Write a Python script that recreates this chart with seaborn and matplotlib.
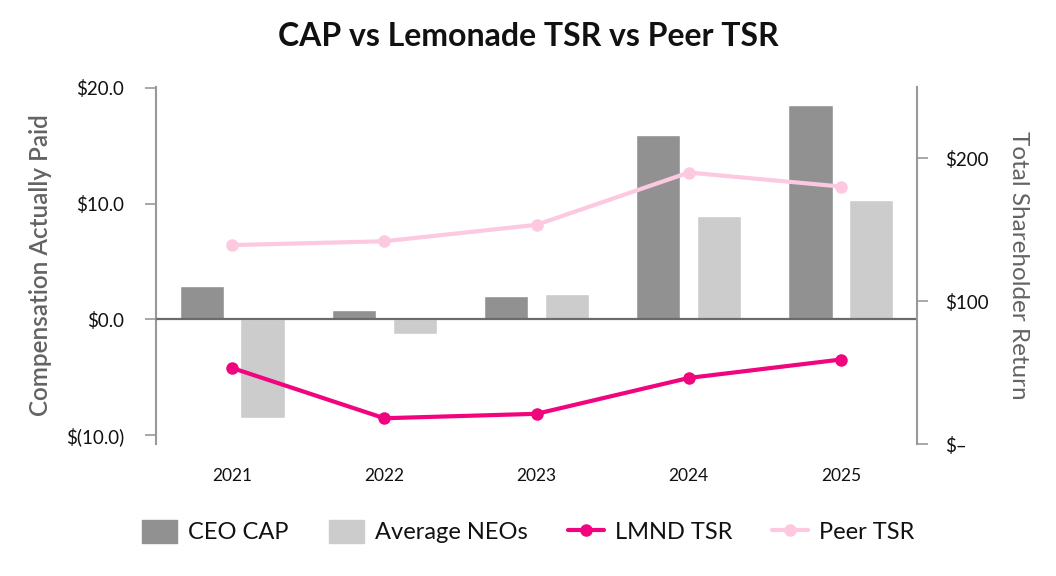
import numpy as np
import pandas as pd
import matplotlib
matplotlib.use("Agg")
import matplotlib.pyplot as plt
import seaborn as sns
from matplotlib.patches import Patch
from matplotlib.lines import Line2D

years = ["2021", "2022", "2023", "2024", "2025"]
ceo_cap = [2.9, 0.8, 2.0, 15.9, 18.5]
avg_neos = [-8.5, -1.25, 2.2, 8.95, 10.3]
lmnd_tsr = [53.3, 18.1, 21.2, 46.3, 59.2]
peer_tsr = [139.3, 142.0, 153.5, 190.1, 180.3]

left_ticks = [-10, 0, 10, 20]
left_labels = ["$(10.0)", "$0.0", "$10.0", "$20.0"]
right_ticks = [0, 100, 200]
right_labels = ["$\u2013", "$100", "$200"]

c_ceo = "#919191"
c_neo = "#cccccc"
c_lmnd = "#f0057f"
c_peer = "#fcc9e1"
axis_grey = "#999999"
label_grey = "#636363"

sns.set_style("white")
plt.rcParams["font.family"] = ["Lato", "DejaVu Sans"]

bars = pd.DataFrame({
    "Year": years * 2,
    "Value": ceo_cap + avg_neos,
    "Series": ["CEO CAP"] * len(years) + ["Average NEOs"] * len(years),
})

fig = plt.figure(figsize=(10.56, 5.76), dpi=100)
ax = fig.add_axes([0.1477, 0.229, 0.7207, 0.62])

sns.barplot(data=bars, x="Year", y="Value", hue="Series",
            palette=[c_ceo, c_neo], gap=0.275, legend=False, ax=ax)
ax.axhline(0, color="#6b6b6b", lw=1.6, zorder=3)
ax.set_xlim(-0.5, len(years) - 0.5)
ax.set_ylim(-10.75, 20.05)
ax.set_yticks(left_ticks)
ax.set_yticklabels(left_labels)
ax.set_xlabel("")
ax.set_ylabel("Compensation Actually Paid", fontsize=17.5, color=label_grey,
              fontweight="semibold", labelpad=10)
ax.tick_params(axis="y", direction="out", length=8, width=1.2, color=axis_grey,
               labelsize=13.5, pad=15, labelcolor="#111111")
ax.tick_params(axis="x", length=0, labelsize=12.5, pad=17, labelcolor="#111111")
for s in ["top", "right", "bottom"]:
    ax.spines[s].set_visible(False)
ax.spines["left"].set_color(axis_grey)
ax.spines["left"].set_linewidth(1.5)

ax2 = ax.twinx()
xpos = np.arange(len(years))
sns.lineplot(x=xpos, y=peer_tsr, color=c_peer, lw=3, marker="o", markersize=9,
             markeredgewidth=0, ax=ax2)
sns.lineplot(x=xpos, y=lmnd_tsr, color=c_lmnd, lw=3, marker="o", markersize=9,
             markeredgewidth=0, ax=ax2)
ax2.set_ylim(0, 250)
ax2.set_yticks(right_ticks)
ax2.set_yticklabels(right_labels)
ax2.set_ylabel("Total Shareholder Return", fontsize=17.5, color=label_grey,
               rotation=270, labelpad=29)
ax2.tick_params(axis="y", direction="out", length=8, width=1.2, color=axis_grey,
                labelsize=13.5, pad=12, labelcolor="#111111")
for s in ["top", "left", "bottom"]:
    ax2.spines[s].set_visible(False)
ax2.spines["right"].set_color(axis_grey)
ax2.spines["right"].set_linewidth(1.5)

fig.suptitle("CAP vs Lemonade TSR vs Peer TSR", fontsize=23, fontweight="bold",
             color="#111111", x=0.5, y=0.962)

handles = [
    Patch(color=c_ceo, label="CEO CAP"),
    Patch(color=c_neo, label="Average NEOs"),
    Line2D([], [], color=c_lmnd, lw=3, marker="o", markersize=8, label="LMND TSR"),
    Line2D([], [], color=c_peer, lw=3, marker="o", markersize=8, label="Peer TSR"),
]
fig.legend(handles=handles, loc="center", bbox_to_anchor=(0.5, 0.077), ncol=4,
           frameon=False, fontsize=17, handlelength=1.5, handleheight=1.1,
           columnspacing=1.7, handletextpad=0.47, labelcolor="#111111")

fig.savefig("out.png", dpi=100)
